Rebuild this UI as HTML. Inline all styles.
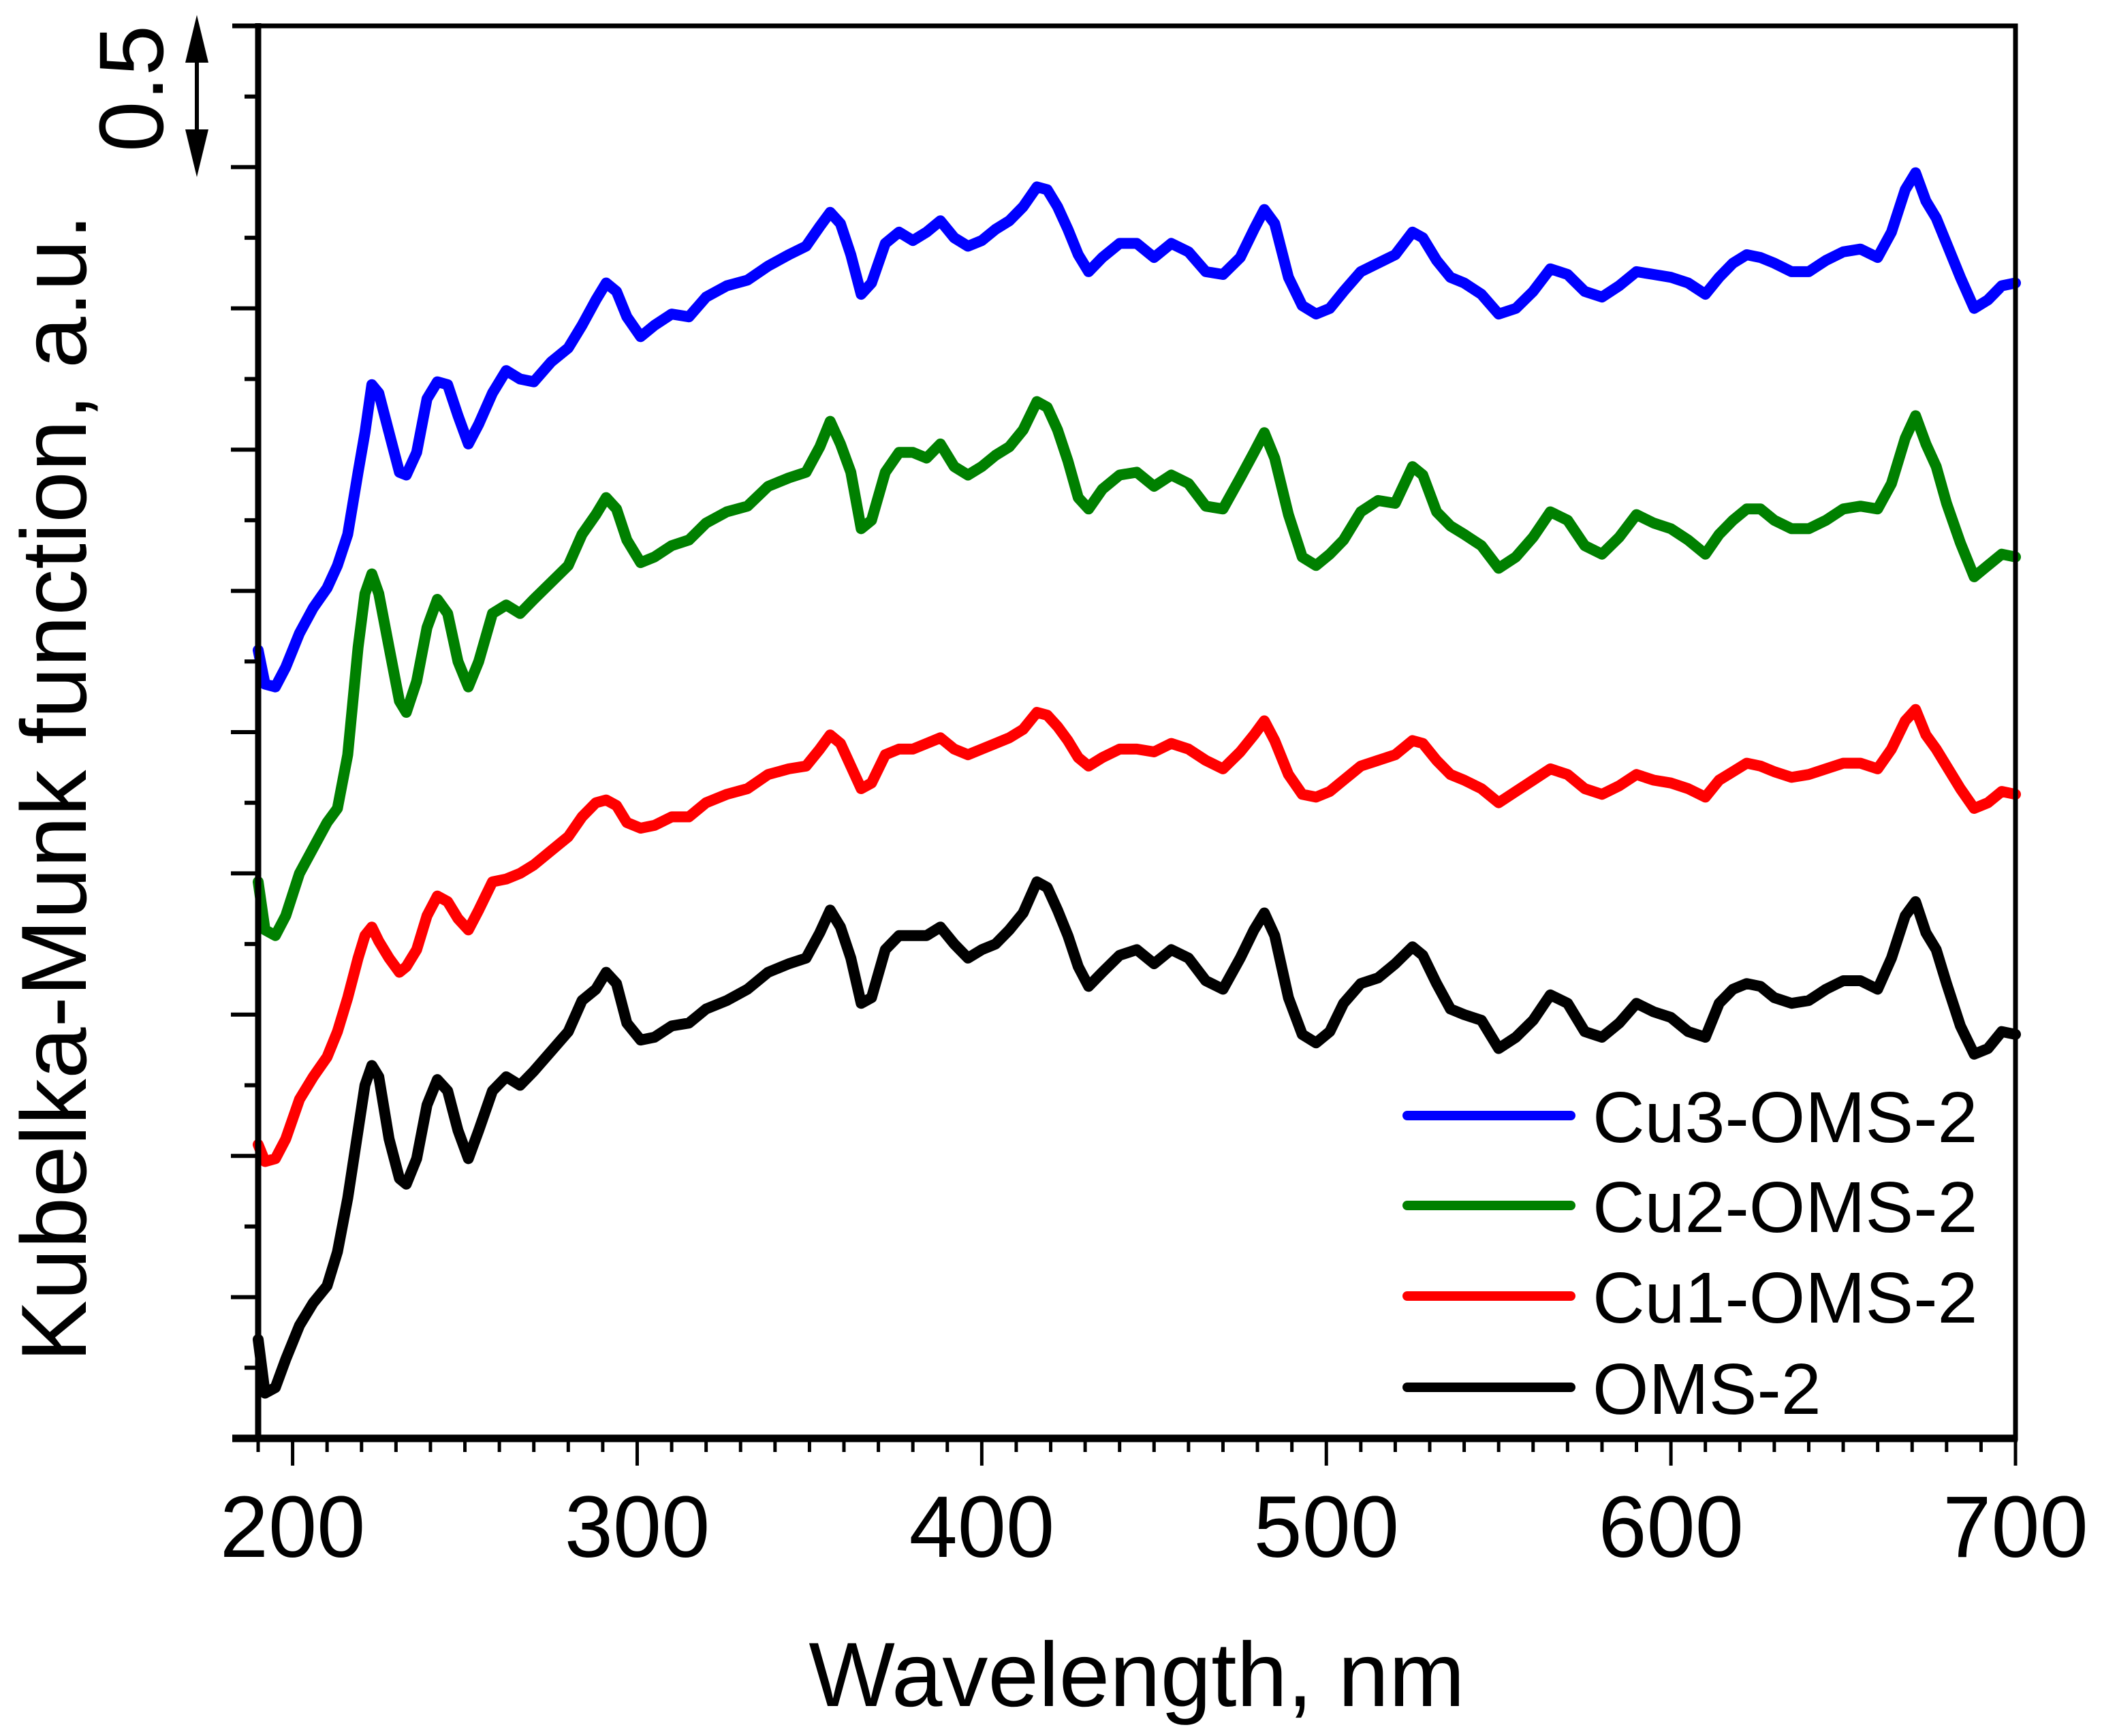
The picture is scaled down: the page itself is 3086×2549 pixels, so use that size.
<!DOCTYPE html>
<html><head><meta charset="utf-8"><style>
html,body{margin:0;padding:0;background:#fff}
svg{display:block}
text{font-family:"Liberation Sans",Arial,sans-serif;fill:#000}
</style></head><body>
<svg id="chart" width="3086" height="2549" viewBox="0 0 3086 2549" xmlns="http://www.w3.org/2000/svg">
<g id="series"></g>
<g id="axes"></g>
<text x="1669" y="2505" font-size="134" text-anchor="middle">Wavelength, nm</text>
<text transform="translate(126,1157) rotate(-90)" font-size="136" text-anchor="middle">Kubelka-Munk function, a.u.</text>
<text transform="translate(239,130) rotate(-90)" font-size="134" text-anchor="middle">0.5</text>
<g>
<line x1="289" y1="80" x2="289" y2="200" stroke="#000" stroke-width="6"/>
<polygon points="289,22 272,92 306,92" fill="#000"/>
<polygon points="289,260 272,190 306,190" fill="#000"/>
</g>
<g id="legend"></g>
</svg>
<script>
const wavelengths=[190,192,195,198,202,206,210,213,216,219,221,223,225,228,231,233,236,239,242,245,248,251,254,258,262,266,270,275,280,284,288,291,294,297,301,305,310,315,320,326,332,338,344,349,353,356,359,362,365,368,372,376,380,384,388,392,396,400,404,408,412,416,419,422,425,428,431,435,440,445,450,455,460,465,470,475,479,482,485,489,493,497,501,505,510,515,520,525,528,532,536,540,545,550,555,560,565,570,575,580,585,590,595,600,605,610,614,618,622,626,630,635,640,645,650,655,660,664,668,671,674,677,680,684,688,692,696,700];
const oms2=[0.35,0.16,0.18,0.28,0.40,0.48,0.54,0.66,0.85,1.09,1.25,1.32,1.28,1.06,0.92,0.90,0.99,1.18,1.27,1.23,1.09,0.99,1.09,1.23,1.28,1.25,1.30,1.37,1.44,1.55,1.59,1.65,1.61,1.47,1.41,1.42,1.46,1.47,1.52,1.55,1.59,1.65,1.68,1.70,1.79,1.87,1.81,1.70,1.54,1.56,1.73,1.78,1.78,1.78,1.81,1.75,1.70,1.73,1.75,1.80,1.86,1.97,1.95,1.87,1.78,1.67,1.60,1.65,1.71,1.73,1.68,1.73,1.70,1.62,1.59,1.70,1.80,1.86,1.78,1.56,1.43,1.40,1.44,1.54,1.61,1.63,1.68,1.74,1.71,1.61,1.52,1.50,1.48,1.38,1.42,1.48,1.57,1.54,1.44,1.42,1.47,1.54,1.51,1.49,1.44,1.42,1.54,1.59,1.61,1.60,1.56,1.54,1.55,1.59,1.62,1.62,1.59,1.70,1.85,1.90,1.79,1.73,1.61,1.46,1.36,1.38,1.44,1.43];
const cu1=[1.04,0.98,0.99,1.06,1.20,1.28,1.35,1.44,1.56,1.70,1.78,1.81,1.76,1.70,1.65,1.67,1.73,1.85,1.92,1.90,1.84,1.80,1.87,1.97,1.98,2.00,2.03,2.08,2.13,2.20,2.25,2.26,2.24,2.18,2.16,2.17,2.20,2.20,2.25,2.28,2.30,2.35,2.37,2.38,2.44,2.49,2.46,2.38,2.30,2.32,2.42,2.44,2.44,2.46,2.48,2.44,2.42,2.44,2.46,2.48,2.51,2.57,2.56,2.52,2.47,2.41,2.38,2.41,2.44,2.44,2.43,2.46,2.44,2.40,2.37,2.43,2.49,2.54,2.47,2.35,2.28,2.27,2.29,2.33,2.38,2.40,2.42,2.47,2.46,2.40,2.35,2.33,2.30,2.25,2.29,2.33,2.37,2.35,2.30,2.28,2.31,2.35,2.33,2.32,2.30,2.27,2.33,2.36,2.39,2.38,2.36,2.34,2.35,2.37,2.39,2.39,2.37,2.44,2.54,2.58,2.49,2.44,2.38,2.30,2.23,2.25,2.29,2.28];
const cu2=[1.97,1.80,1.78,1.85,2.00,2.09,2.18,2.23,2.42,2.80,2.99,3.06,2.99,2.80,2.61,2.57,2.68,2.87,2.97,2.92,2.75,2.66,2.75,2.92,2.95,2.92,2.97,3.03,3.09,3.20,3.27,3.33,3.29,3.18,3.10,3.12,3.16,3.18,3.24,3.28,3.30,3.37,3.40,3.42,3.51,3.60,3.52,3.42,3.22,3.25,3.42,3.49,3.49,3.47,3.52,3.44,3.41,3.44,3.48,3.51,3.57,3.67,3.65,3.57,3.46,3.33,3.29,3.36,3.41,3.42,3.37,3.41,3.38,3.30,3.29,3.40,3.49,3.56,3.47,3.27,3.12,3.09,3.13,3.18,3.28,3.32,3.31,3.44,3.41,3.28,3.23,3.20,3.16,3.08,3.12,3.19,3.28,3.25,3.16,3.13,3.19,3.27,3.24,3.22,3.18,3.13,3.20,3.25,3.29,3.29,3.25,3.22,3.22,3.25,3.29,3.30,3.29,3.38,3.54,3.62,3.52,3.44,3.31,3.17,3.05,3.09,3.13,3.12];
const cu3=[2.79,2.67,2.66,2.73,2.85,2.94,3.01,3.09,3.20,3.42,3.56,3.73,3.70,3.56,3.42,3.41,3.49,3.68,3.74,3.73,3.62,3.52,3.59,3.70,3.78,3.75,3.74,3.81,3.86,3.94,4.03,4.09,4.06,3.97,3.90,3.94,3.98,3.97,4.04,4.08,4.10,4.15,4.19,4.22,4.29,4.34,4.30,4.19,4.05,4.09,4.23,4.27,4.24,4.27,4.31,4.25,4.22,4.24,4.28,4.31,4.36,4.43,4.42,4.36,4.28,4.19,4.13,4.18,4.23,4.23,4.18,4.23,4.20,4.13,4.12,4.18,4.28,4.35,4.30,4.11,4.01,3.98,4.00,4.06,4.13,4.16,4.19,4.27,4.25,4.17,4.11,4.09,4.05,3.98,4.00,4.06,4.14,4.12,4.06,4.04,4.08,4.13,4.12,4.11,4.09,4.05,4.11,4.16,4.19,4.18,4.16,4.13,4.13,4.17,4.20,4.21,4.18,4.27,4.42,4.48,4.38,4.32,4.23,4.11,4.00,4.03,4.08,4.09];
const seriesNames=["Cu3-OMS-2","Cu2-OMS-2","Cu1-OMS-2","OMS-2"];
const xTickLabels=[200,300,400,500,600,700];

const NS="http://www.w3.org/2000/svg";
const L=379,R=2959,T=38,B=2112;
const X0=190,X1=700,Y0=0,Y1=5;
function xs(v){return L+(v-X0)/(X1-X0)*(R-L);}
function ys(v){return B-(v-Y0)/(Y1-Y0)*(B-T);}
function mk(tag,attrs,parent){const e=document.createElementNS(NS,tag);for(const k in attrs)e.setAttribute(k,attrs[k]);parent.appendChild(e);return e;}

const seriesG=document.getElementById('series');
const axesG=document.getElementById('axes');
const legendG=document.getElementById('legend');
const colors=["#0000ff","#008000","#ff0000","#000000"];
const allSeries=[cu3,cu2,cu1,oms2];
const keys=["cu3","cu2","cu1","oms2"];

allSeries.slice().reverse().forEach((vals,ri)=>{
  const i=allSeries.length-1-ri;
  let d="";
  vals.forEach((v,j)=>{d+=(j?"L":"M")+xs(wavelengths[j]).toFixed(1)+","+ys(v).toFixed(1);});
  const p=mk('path',{d:d,fill:"none",stroke:colors[i],"stroke-width":16,"stroke-linejoin":"round","stroke-linecap":"round"},seriesG);
  
  
});

const fr=mk('rect',{x:L,y:T,width:R-L,height:B-T,fill:"none",stroke:"#000","stroke-width":7},axesG);


const xa=mk('line',{x1:L-38,y1:B,x2:R+3,y2:B,stroke:"#000","stroke-width":11},axesG);


const ya=mk('line',{x1:L,y1:T-4,x2:L,y2:B,stroke:"#000","stroke-width":9},axesG);


const ta=mk('line',{x1:L-38,y1:T,x2:R,y2:T,stroke:"#000","stroke-width":7},axesG);



for(let w=190;w<=700;w+=10){
  const major=(w%100===0);
  const t=mk('line',{x1:xs(w),y1:B,x2:xs(w),y2:B+(major?40:20),stroke:"#000","stroke-width":5},axesG);
  
  
}
xTickLabels.forEach(v=>{
  const t=mk('text',{x:xs(v),y:2286,"font-size":128,"text-anchor":"middle"},axesG);
  t.textContent=v;
  
  
});
for(let k=1;k<20;k++){
  const v=k*0.25;
  const major=(k%2===0);
  const t=mk('line',{x1:L-(major?40:20),y1:ys(v),x2:L,y2:ys(v),stroke:"#000","stroke-width":6},axesG);
  
  
}

const legY=[1638,1770,1903,2037];
seriesNames.forEach((n,i)=>{
  const g=mk('g',{},legendG);
  
  
  mk('line',{x1:2066,y1:legY[i],x2:2306,y2:legY[i],stroke:colors[i],"stroke-width":14,"stroke-linecap":"round"},g);
  const t=mk('text',{x:2338,y:legY[i]+39,"font-size":106},g);
  t.textContent=n;
});
</script>
</body></html>
